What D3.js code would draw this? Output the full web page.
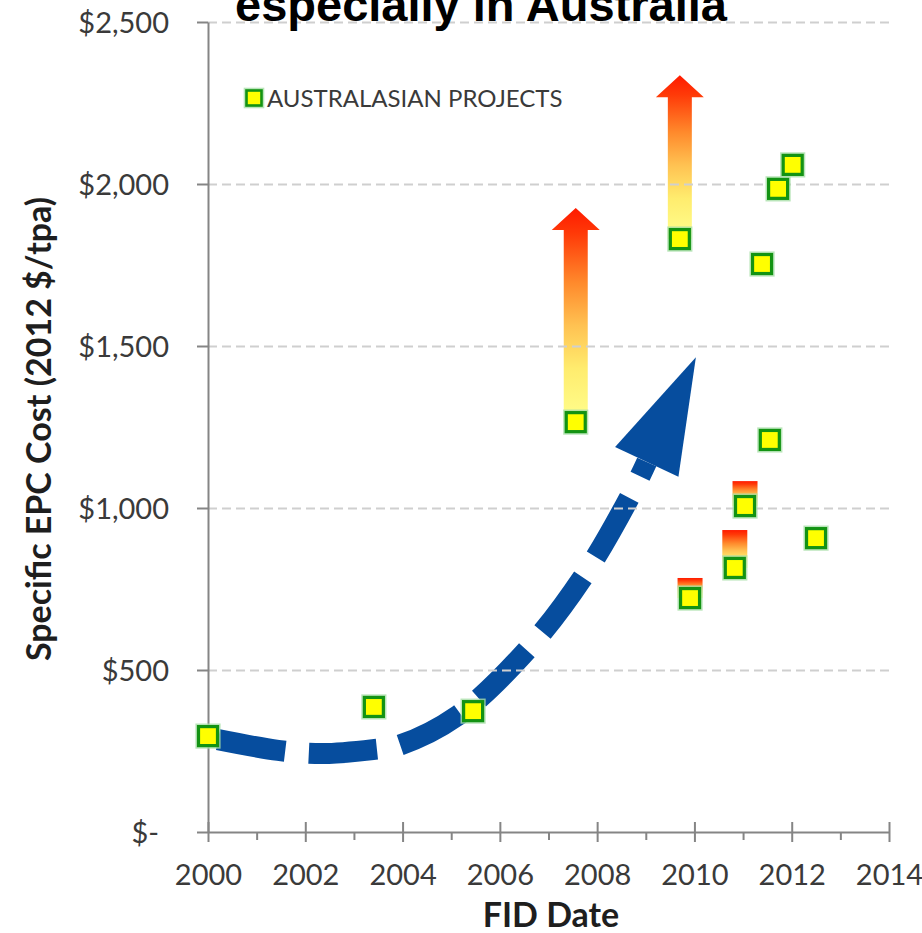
<!DOCTYPE html>
<html>
<head>
<meta charset="utf-8">
<script src="https://cdn.jsdelivr.net/npm/d3@7"></script>
<style>
  html, body { margin: 0; padding: 0; background: #fff; }
  svg { display: block; }
</style>
</head>
<body>
<script>
// ---------------- DATA ----------------
const titleText = "especially in Australia";
const xAxisTitle = "FID Date";
const yAxisTitle = "Specific EPC Cost (2012 $/tpa)";
const legendLabel = "AUSTRALASIAN PROJECTS";

// Australasian projects: FID year and specific EPC cost (2012 $/tpa)
const projectYears = [2000.0, 2003.41, 2005.45, 2007.56, 2009.70, 2009.91, 2010.83, 2011.04, 2011.39, 2011.55, 2011.72, 2012.02, 2012.50];
const projectCosts = [296, 386, 373, 1265, 1830, 722, 815, 1006, 1753, 1210, 1985, 2059, 907];

// Cost-overrun indicators (gradient arrows / bars) above selected projects
const upsideYears = [2007.56, 2009.70, 2009.91, 2010.83, 2011.04];
const upsideFrom  = [1265, 1830, 722, 815, 1006];
const upsideTo    = [1926, 2336, 784, 932, 1083];
const upsideKind  = ["arrow", "arrow", "bar", "bar", "bar"];

// Blue dashed trend arrow (year, cost) and its head tip
const trendYears  = [2000.04, 2001.44, 2002.36, 2003.43, 2003.88, 2005.12, 2006.56, 2007.71, 2008.67, 2009.02];
const trendValues = [290, 252, 242, 255, 265, 358, 562, 787, 1034, 1142];
const trendTip = [2010.03, 1465];

// Axes
const xMajorTicks = [2000, 2002, 2004, 2006, 2008, 2010, 2012, 2014];
const xMinorTicks = [2001, 2003, 2005, 2007, 2009, 2011, 2013];
const yTicks = [0, 500, 1000, 1500, 2000, 2500];
const yTickLabels = ["$-", "$500", "$1,000", "$1,500", "$2,000", "$2,500"];

// ---------------- LAYOUT ----------------
const W = 922, H = 933;
const plot = { left: 208, right: 889, top: 22, bottom: 832 };

const x = d3.scaleLinear().domain([2000, 2014]).range([plot.left, plot.right]);
const y = d3.scaleLinear().domain([0, 2500]).range([plot.bottom, plot.top]);

const svg = d3.select("body").append("svg").attr("width", W).attr("height", H);

// gradient
const defs = svg.append("defs");
const grad = defs.append("linearGradient").attr("id", "upGrad")
  .attr("x1", 0).attr("y1", 0).attr("x2", 0).attr("y2", 1);
[[0, "#ff1a00"], [0.12, "#ff3a08"], [0.35, "#ff8a2c"], [0.55, "#ffc252"], [0.75, "#ffec6e"], [1, "#ffff8e"]]
  .forEach(([o, c]) => grad.append("stop").attr("offset", o).attr("stop-color", c));

const font = "Lato, 'Open Sans', sans-serif";

// ---------------- UPSIDE ARROWS / BARS ----------------
const gUp = svg.append("g");
upsideYears.forEach((yr, i) => {
  const cx = x(yr);
  const yb = y(upsideFrom[i]);
  const yt = y(upsideTo[i]);
  if (upsideKind[i] === "arrow") {
    const sw = 12, hw = 24, hl = 22;
    const p = d3.path();
    p.moveTo(cx - sw, yb);
    p.lineTo(cx - sw, yt + hl);
    p.lineTo(cx - hw, yt + hl);
    p.lineTo(cx, yt);
    p.lineTo(cx + hw, yt + hl);
    p.lineTo(cx + sw, yt + hl);
    p.lineTo(cx + sw, yb);
    p.closePath();
    gUp.append("path").attr("d", p.toString()).attr("fill", "url(#upGrad)");
  } else {
    gUp.append("rect")
      .attr("x", cx - 12.5).attr("y", yt)
      .attr("width", 25).attr("height", yb - yt)
      .attr("fill", "url(#upGrad)");
  }
});

// ---------------- TREND ARROW ----------------
const trendPts = trendYears.map((t, i) => [x(t), y(trendValues[i])]);
const line = d3.line().curve(d3.curveCatmullRom.alpha(0.5));
const trendPath = svg.append("path")
  .attr("d", line(trendPts))
  .attr("fill", "none")
  .attr("stroke", "#064d9e")
  .attr("stroke-width", 21)
  .attr("stroke-linecap", "butt");
const L = trendPath.node().getTotalLength();
const period = 92, dash = 68;
const off = (((16 - L) % period) + period) % period;
trendPath.attr("stroke-dasharray", dash + " " + (period - dash)).attr("stroke-dashoffset", off);

// head
const B = trendPts[trendPts.length - 1];
const T = [x(trendTip[0]), y(trendTip[1])];
const dx = T[0] - B[0], dy = T[1] - B[1];
const len = Math.hypot(dx, dy);
const nx = -dy / len, ny = dx / len;
const hwid = 35;
svg.append("path")
  .attr("d", `M${T[0]},${T[1]}L${B[0] + nx * hwid},${B[1] + ny * hwid}L${B[0] - nx * hwid},${B[1] - ny * hwid}Z`)
  .attr("fill", "#064d9e");

// ---------------- GRIDLINES ----------------
const grid = svg.append("g")
  .attr("transform", `translate(${plot.left},0)`)
  .call(d3.axisLeft(y).tickValues(yTicks.filter(d => d > 0)).tickSize(-(plot.right - plot.left + 2)).tickFormat(""));
grid.select(".domain").remove();
grid.selectAll("line").attr("stroke", "#cfcfcf").attr("stroke-width", 2).attr("stroke-dasharray", "9 5");

// ---------------- AXES ----------------
const axisColor = "#858585";
const labelColor = "#3a3a3a";

const yAx = svg.append("g")
  .attr("transform", `translate(${plot.left},0)`)
  .call(d3.axisLeft(y).tickValues(yTicks).tickSize(11).tickSizeOuter(0).tickPadding(28)
    .tickFormat((d, i) => yTickLabels[i]));
yAx.select(".domain").attr("stroke", axisColor).attr("stroke-width", 2);
yAx.selectAll(".tick line").attr("stroke", axisColor).attr("stroke-width", 2);
yAx.selectAll(".tick text")
  .attr("fill", labelColor).style("font-family", font).style("font-size", "29px")
  .attr("dy", "0.36em")
  .attr("dx", (d) => d === 0 ? -10 : 0);

const xMinor = svg.append("g")
  .attr("transform", `translate(0,${plot.bottom})`)
  .call(d3.axisBottom(x).tickValues(xMinorTicks).tickSize(8).tickSizeOuter(0).tickFormat(""));
xMinor.select(".domain").remove();
xMinor.selectAll(".tick line").attr("stroke", axisColor).attr("stroke-width", 2);

const xAx = svg.append("g")
  .attr("transform", `translate(0,${plot.bottom})`)
  .call(d3.axisBottom(x).tickValues(xMajorTicks).tickSize(10).tickSizeOuter(0).tickPadding(22)
    .tickFormat(d3.format("d")));
xAx.select(".domain").attr("stroke", axisColor).attr("stroke-width", 2);
xAx.selectAll(".tick line").attr("stroke", axisColor).attr("stroke-width", 2).attr("y1", -10);
xAx.selectAll(".tick text")
  .attr("fill", labelColor).style("font-family", font).style("font-size", "29px");

// axis titles
svg.append("text")
  .attr("x", 551).attr("y", 927)
  .attr("text-anchor", "middle")
  .style("font-family", font).style("font-weight", "bold").style("font-size", "34px")
  .attr("fill", "#1e1e1e")
  .text(xAxisTitle);

svg.append("text")
  .attr("transform", `translate(51,429) rotate(-90)`)
  .attr("text-anchor", "middle")
  .style("font-family", font).style("font-weight", "bold").style("font-size", "34px")
  .attr("fill", "#1e1e1e")
  .text(yAxisTitle);

// ---------------- MARKERS ----------------
function marker(g, cx, cy, s, sw) {
  g.append("rect")
    .attr("x", cx - s / 2 - 1.5).attr("y", cy - s / 2 - 1.5)
    .attr("width", s + 3).attr("height", s + 3)
    .attr("fill", "none").attr("stroke", "#a8dea8").attr("stroke-width", sw)
    .attr("opacity", 0.8);
  g.append("rect")
    .attr("x", cx - s / 2).attr("y", cy - s / 2)
    .attr("width", s).attr("height", s)
    .attr("fill", "#ffff00").attr("stroke", "#139313").attr("stroke-width", sw);
}
const gM = svg.append("g");
projectYears.forEach((yr, i) => marker(gM, x(yr), y(projectCosts[i]), 19, 3.2));

// ---------------- LEGEND ----------------
const gL = svg.append("g");
marker(gL, 254, 98, 15, 2.6);
gL.append("text")
  .attr("x", 267).attr("y", 106.5)
  .style("font-family", font).style("font-size", "24px")
  .attr("fill", labelColor)
  .text(legendLabel);

// ---------------- TITLE ----------------
svg.append("text")
  .attr("x", 481).attr("y", 21)
  .attr("text-anchor", "middle")
  .style("font-family", "'Liberation Sans', Arial, sans-serif")
  .style("font-weight", "bold").style("font-size", "47px")
  .attr("fill", "#000")
  .text(titleText);
</script>
</body>
</html>
